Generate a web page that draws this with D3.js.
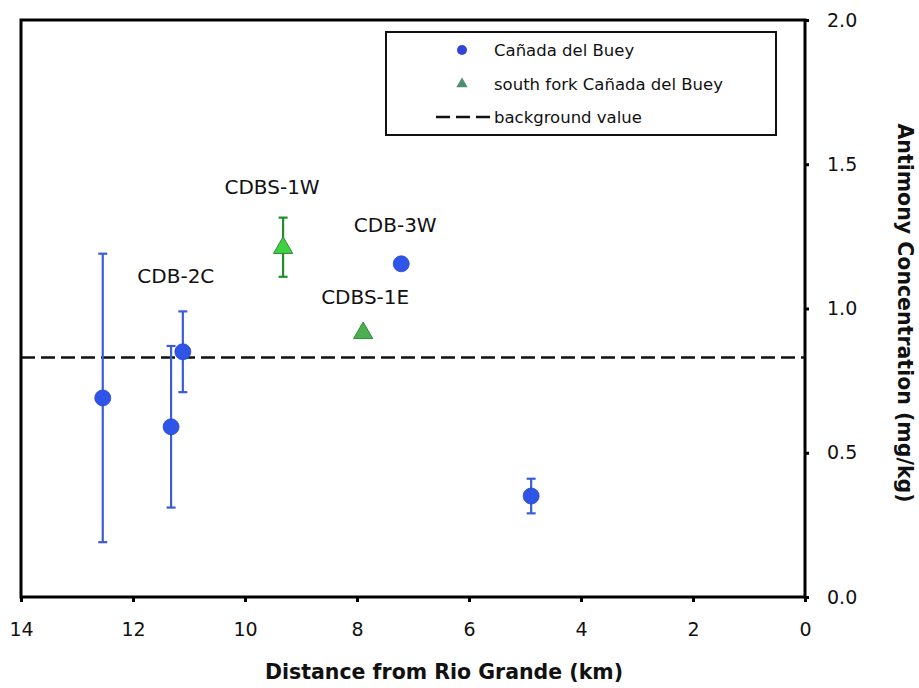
<!DOCTYPE html>
<html>
<head>
<meta charset="utf-8">
<script src="https://cdn.jsdelivr.net/npm/d3@7"></script>
<style>
  html, body { margin: 0; padding: 0; background: #fff; }
  svg { display: block; font-family: "DejaVu Sans", Verdana, sans-serif; }
</style>
</head>
<body>
<svg id="chart" width="919" height="688"></svg>
<script>
// Antimony in sediments along Cañada del Buey, by distance upstream of the Rio Grande
const sampleNames = ["", "", "CDB-2C", "CDB-3W", "", "CDBS-1W", "CDBS-1E"];
const sampleSeries = ["main", "main", "main", "main", "main", "south", "south"];
const distanceKm = [12.54, 11.32, 11.11, 7.21, 4.89, 9.32, 7.89];
const antimony = [0.69, 0.59, 0.85, 1.155, 0.35, 1.21, 0.915];
const errLow = [0.19, 0.31, 0.71, null, 0.29, 1.11, null];
const errHigh = [1.19, 0.87, 0.99, null, 0.41, 1.315, null];
const backgroundValue = 0.83;

const xTicks = [14, 12, 10, 8, 6, 4, 2, 0];
const yTicks = [0.0, 0.5, 1.0, 1.5, 2.0];
const legendLabels = ["Cañada del Buey", "south fork Cañada del Buey", "background value"];

const svg = d3.select("#chart");
const plot = { left: 21, right: 805, top: 20, bottom: 597 };

const x = d3.scaleLinear().domain([14, 0]).range([plot.left, plot.right]);
const y = d3.scaleLinear().domain([0, 2]).range([plot.bottom, plot.top]);

const blue = "#2f54e8", blueBar = "#3a5cd8";
const greenFill = { "CDBS-1W": "#3fd13f", "CDBS-1E": "#4cb050" };

// background level
svg.append("line")
  .attr("x1", x(14)).attr("x2", x(0))
  .attr("y1", y(backgroundValue)).attr("y2", y(backgroundValue))
  .attr("stroke", "#111").attr("stroke-width", 2.5)
  .attr("stroke-dasharray", "14,6");

// frame
svg.append("rect")
  .attr("x", plot.left).attr("y", plot.top)
  .attr("width", plot.right - plot.left).attr("height", plot.bottom - plot.top)
  .attr("fill", "none").attr("stroke", "#000").attr("stroke-width", 3);

// x axis (bottom)
const xAxis = d3.axisBottom(x).tickValues(xTicks).tickSize(5).tickPadding(21)
  .tickFormat(d3.format("d"));
const gx = svg.append("g").attr("transform", `translate(0,${plot.bottom})`).call(xAxis);
gx.select(".domain").remove();
gx.selectAll(".tick line").attr("stroke", "#000").attr("stroke-width", 3);
gx.selectAll(".tick text").attr("font-size", 19).attr("fill", "#111")
  .attr("font-family", "DejaVu Sans, Verdana, sans-serif");

// y axis (right)
const yAxis = d3.axisRight(y).tickValues(yTicks).tickSize(4).tickPadding(18)
  .tickFormat(d3.format(".1f"));
const gy = svg.append("g").attr("transform", `translate(${plot.right},0)`).call(yAxis);
gy.select(".domain").remove();
gy.selectAll(".tick line").attr("stroke", "#000").attr("stroke-width", 3);
gy.selectAll(".tick text").attr("font-size", 19).attr("fill", "#111")
  .attr("font-family", "DejaVu Sans, Verdana, sans-serif");

// axis titles
svg.append("text")
  .attr("x", 444).attr("y", 672)
  .attr("text-anchor", "middle").attr("dominant-baseline", "central")
  .attr("font-size", 20.5).attr("font-weight", "bold").attr("fill", "#111")
  .text("Distance from Rio Grande (km)");

svg.append("text")
  .attr("transform", "translate(905,313) rotate(90)")
  .attr("text-anchor", "middle").attr("dominant-baseline", "central")
  .attr("font-size", 20.5).attr("font-weight", "bold").attr("fill", "#111")
  .text("Antimony Concentration (mg/kg)");

const idx = d3.range(distanceKm.length);

// error bars
const withErr = idx.filter(i => errLow[i] !== null);
const eb = svg.append("g");
withErr.forEach(i => {
  const col = sampleSeries[i] === "main" ? blueBar : "#1f8f2a";
  const cx = x(distanceKm[i]);
  eb.append("line").attr("x1", cx).attr("x2", cx)
    .attr("y1", y(errLow[i])).attr("y2", y(errHigh[i]))
    .attr("stroke", col).attr("stroke-width", 2.2);
  [errLow[i], errHigh[i]].forEach(v => {
    eb.append("line").attr("x1", cx - 4.5).attr("x2", cx + 4.5)
      .attr("y1", y(v)).attr("y2", y(v))
      .attr("stroke", col).attr("stroke-width", 2.2);
  });
});

// markers
const circleSym = d3.symbol().type(d3.symbolCircle).size(Math.PI * 8 * 8);
const triSym = d3.symbol().type(d3.symbolTriangle).size(160);
idx.forEach(i => {
  const cx = x(distanceKm[i]), cy = y(antimony[i]);
  if (sampleSeries[i] === "main") {
    svg.append("path").attr("d", circleSym())
      .attr("transform", `translate(${cx},${cy})`)
      .attr("fill", blue).attr("stroke", "#2a48cc").attr("stroke-width", 0.8);
  } else {
    svg.append("path").attr("d", triSym())
      .attr("transform", `translate(${cx},${cy})`)
      .attr("fill", greenFill[sampleNames[i]]).attr("stroke", "#2e8b3a").attr("stroke-width", 1);
  }
});

// sample labels
const labelOffset = {
  "CDB-2C": [-7, -76], "CDB-3W": [-6, -39],
  "CDBS-1W": [-11, -61], "CDBS-1E": [2, -36]
};
idx.filter(i => sampleNames[i]).forEach(i => {
  const off = labelOffset[sampleNames[i]];
  svg.append("text")
    .attr("x", x(distanceKm[i]) + off[0]).attr("y", y(antimony[i]) + off[1])
    .attr("text-anchor", "middle").attr("dominant-baseline", "central")
    .attr("font-size", 20).attr("fill", "#111")
    .text(sampleNames[i]);
});

// legend
const lg = svg.append("g");
lg.append("rect").attr("x", 386).attr("y", 32).attr("width", 390).attr("height", 103)
  .attr("fill", "#fff").attr("stroke", "#111").attr("stroke-width", 2);
const rowY = [50, 84, 117];
lg.append("path").attr("d", d3.symbol().type(d3.symbolCircle).size(Math.PI * 5 * 5)())
  .attr("transform", `translate(462,${rowY[0]})`).attr("fill", "#3344dd");
lg.append("path").attr("d", d3.symbol().type(d3.symbolTriangle).size(55)())
  .attr("transform", `translate(462,${rowY[1]})`).attr("fill", "#4d8f6c");
lg.append("line").attr("x1", 436).attr("x2", 490).attr("y1", rowY[2]).attr("y2", rowY[2])
  .attr("stroke", "#111").attr("stroke-width", 2.5).attr("stroke-dasharray", "14,6");
legendLabels.forEach((t, k) => {
  lg.append("text").attr("x", 494).attr("y", rowY[k])
    .attr("dominant-baseline", "central").attr("font-size", 16.5).attr("fill", "#111")
    .text(t);
});
</script>
</body>
</html>
